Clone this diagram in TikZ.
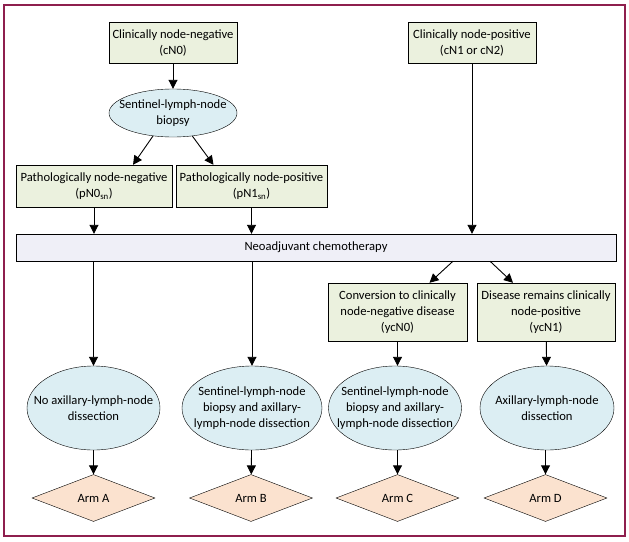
\documentclass[tikz,border=0pt]{standalone}
\usepackage{fontspec}
\setmainfont{Carlito}
\usetikzlibrary{shapes.geometric, arrows.meta, positioning, calc}
\definecolor{stagegreen}{HTML}{EBF1DE}
\definecolor{surgblue}{HTML}{DCEEF3}
\definecolor{armpeach}{HTML}{FBE2CF}
\definecolor{barlav}{HTML}{EFEFF7}
\definecolor{framered}{HTML}{8E1F4E}

\begin{document}
\begin{tikzpicture}[x=1pt, y=-1pt, font=\fontsize{12.6}{16}\selectfont,
  stage/.style={draw=black, rectangle, fill=stagegreen, align=center, inner sep=1pt},
  surgery/.style={draw=black, ellipse, fill=surgblue, align=center, inner xsep=-30pt, inner ysep=-15pt, minimum height=84pt},
  arm/.style={draw=black, diamond, fill=armpeach, minimum width=123pt, minimum height=47pt, inner sep=0pt},
  flow/.style={-{Triangle[length=9pt,width=9pt]}, line width=0.9pt}]
        \useasboundingbox (0,0) rectangle (629,541);
        \draw[framered, line width=1.2pt] (4,5) rectangle (625,536);
        % top of the chart
        \node[stage, minimum width=128pt, minimum height=41pt] (cN0) at (173,43) {Clinically node-negative\\(cN0)};
        \node[stage, minimum width=128pt, minimum height=41pt] (cN1) at (472,43) {Clinically node-positive\\(cN1 or cN2)};
        \node[surgery, minimum width=128pt, minimum height=48pt] (slnb) at (173,113) {Sentinel-lymph-node\\biopsy};
        \node[stage, minimum width=156pt, minimum height=42pt] (pN0) at (94,186) {Pathologically node-negative\\(pN0\textsubscript{sn})};
        \node[stage, minimum width=151pt, minimum height=42pt] (pN1) at (251.5,186) {Pathologically node-positive\\(pN1\textsubscript{sn})};
        \node[draw=black, rectangle, fill=barlav, minimum width=600pt, minimum height=27pt] (neo) at (316,247.5) {Neoadjuvant chemotherapy};
        \node[stage, minimum width=139pt, minimum height=58pt] (ycN0) at (397.5,312) {Conversion to clinically\\node-negative disease\\(ycN0)};
        \node[stage, minimum width=138pt, minimum height=58pt] (ycN1) at (546,312) {Disease remains clinically\\node-positive\\(ycN1)};
        % surgery
        \node[surgery, minimum width=133pt] (ellA) at (93.5,408) {No axillary-lymph-node\\dissection};
        \node[surgery, minimum width=140pt] (ellB) at (252,408) {Sentinel-lymph-node\\biopsy and axillary-\\lymph-node dissection};
        \node[surgery, minimum width=133pt] (ellC) at (395,408) {Sentinel-lymph-node\\biopsy and axillary-\\lymph-node dissection};
        \node[surgery, minimum width=134pt] (ellD) at (547,408) {Axillary-lymph-node\\dissection};
        % arms
        \node[arm] (armA) at (93.5,498) {Arm A};
        \node[arm] (armB) at (251,498) {Arm B};
        \node[arm] (armC) at (397.5,498) {Arm C};
        \node[arm] (armD) at (545.5,498) {Arm D};
        \draw[flow] (cN0) -- (slnb);
        \draw[flow] (slnb.229) -- ([xshift=39pt]pN0.north);
        \draw[flow] (slnb.-50) -- ([xshift=-38pt]pN1.north);
        \draw[flow] (pN0) -- (pN0 |- neo.north);
        \draw[flow] (pN1) -- (pN1 |- neo.north);
        \draw[flow] (cN1) -- (cN1 |- neo.north);
        \draw[flow] ([xshift=137pt]neo.south) -- ([xshift=32pt]ycN0.north);
        \draw[flow] ([xshift=174pt]neo.south) -- ([xshift=-33pt]ycN1.north);
        \draw[flow] (neo.south -| ellA) -- (ellA);
        \draw[flow] (neo.south -| ellB) -- (ellB);
        \draw[flow] (ycN0) -- (ycN0 |- ellC.north);
        \draw[flow] (ycN1) -- (ellD);
        \draw[flow] (ellA) -- (armA);
        \draw[flow] (ellB) -- (armB);
        \draw[flow] (ellC.south -| armC) -- (armC);
        \draw[flow] (ellD.south -| armD) -- (armD);
\end{tikzpicture}
\end{document}
